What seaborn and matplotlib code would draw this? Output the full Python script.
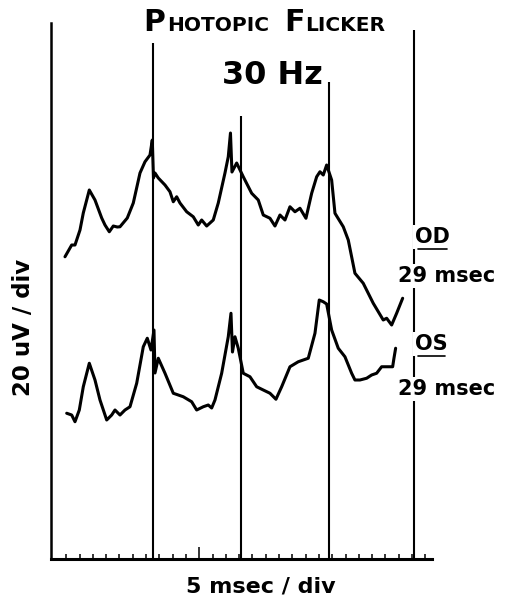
import matplotlib
matplotlib.use("Agg")
import matplotlib.pyplot as plt
import pandas as pd
import seaborn as sns

# photopic flicker ERG, 30 Hz. time in msec, amplitude in uV
od_time = [4.51, 7.03, 8.27, 10.15, 11.39, 13.65, 15.79, 18.31, 19.55, 21.17,
           22.67, 24.17, 25.19, 27.93, 30.19, 32.71, 34.59, 36.47, 37.33, 37.78,
           38.35, 39.59, 42.11, 43.98, 45.23, 46.5, 47.74, 50.26, 52.74, 54.62,
           55.9, 57.78, 60.26, 62.14, 64.66, 65.9, 66.73, 67.29, 69.06, 71.54,
           74.7, 77.18, 79.06, 81.58, 83.46, 85.34, 87.22, 89.1, 90.98, 92.86,
           95.11, 97.26, 99.14, 100.38, 101.62, 102.89, 104.77, 106.02, 109.14, 111.02,
           113.53, 116.65, 120.41, 124.17, 125.45, 127.33, 129.21, 131.47]
od_amp = [120.9, 125.6, 125.6, 131.6, 138.4, 147.6, 143.6, 136.4, 133.6, 130.9,
          133.2, 132.8, 132.9, 136.4, 142.4, 154.4, 158.9, 161.6, 167.6, 152.4,
          154.4, 152.4, 149.6, 146.9, 142.9, 144.9, 142.4, 138.9, 136.9, 133.6,
          135.6, 133.2, 135.6, 142.4, 154.4, 160.9, 170.4, 154.8, 158.4, 152.9,
          146.3, 143.6, 137.6, 136.3, 133.2, 137.6, 135.6, 140.9, 138.9, 140.3,
          136.3, 146.3, 152.9, 154.9, 153.6, 157.6, 151.6, 138.3, 132.9, 127.6,
          114.3, 110.3, 102.3, 95.6, 96.3, 93.6, 98.3, 104.3]

os_time = [5.15, 7.03, 8.27, 9.89, 11.39, 13.65, 15.79, 17.67, 20.19, 22.07,
           23.31, 25.19, 27.07, 28.95, 31.47, 33.95, 35.45, 36.84, 37.97, 38.35,
           39.59, 42.11, 45.23, 48.98, 52.14, 54.02, 56.5, 58.38, 59.66, 60.9,
           63.42, 65.9, 66.92, 67.48, 68.42, 69.66, 71.54, 74.06, 76.58, 79.06,
           81.58, 83.83, 85.98, 89.1, 92.22, 95.98, 98.5, 100.11, 101.62, 102.89,
           104.77, 107.26, 109.77, 112.29, 113.53, 115.41, 117.93, 119.81, 121.69, 123.57,
           127.71, 128.2, 128.83]
os_amp = [58.3, 57.6, 54.9, 59.6, 68.9, 78.3, 71.6, 63.6, 55.6, 57.6,
          59.6, 57.6, 59.6, 60.9, 70.3, 84.9, 88.3, 83.6, 91.6, 74.4,
          80.3, 74.3, 66.3, 64.9, 62.9, 59.6, 60.9, 61.6, 60.4, 63.6,
          74.3, 88.9, 98.3, 82.8, 88.9, 84.3, 74.3, 72.9, 68.9, 67.6,
          66.3, 63.9, 68.9, 76.9, 78.9, 80.3, 90.3, 103.6, 102.9, 102.0,
          91.6, 84.3, 80.9, 74.3, 71.6, 71.6, 72.3, 73.6, 74.3, 76.9,
          76.9, 80.3, 84.3]

# stimulus flash markers (30 Hz) and how high each one was drawn
flash_times = [37.6, 70.7, 103.8, 135.7]
flash_tops = [206.4, 177.2, 190.8, 211.6]

tick_times = list(range(5, 141, 5))
long_tick = 55

df = pd.concat([
    pd.DataFrame({"time": od_time, "amp": od_amp, "eye": "OD"}),
    pd.DataFrame({"time": os_time, "amp": os_amp, "eye": "OS"}),
])

sns.set_style("white")
plt.rcParams["font.family"] = ["DejaVu Sans"]
plt.rcParams["font.weight"] = "bold"
plt.rcParams["text.color"] = "black"
plt.rcParams["axes.edgecolor"] = "black"
plt.rcParams["xtick.color"] = "black"

fig = plt.figure(figsize=(5.09, 6.01), dpi=100)
ax = fig.add_axes([0.1002, 0.0699, 0.7485, 0.8918])

sns.lineplot(data=df, x="time", y="amp", units="eye", estimator=None, sort=False,
             color="black", linewidth=2.2, legend=False, ax=ax)

ax.vlines(flash_times, 0, flash_tops, color="black", linewidth=1.5, zorder=1)

ax.set_xlim(-0.75, 142.5)
ax.set_ylim(0, 214.4)
sns.despine(ax=ax)
ax.spines["left"].set_linewidth(1.8)
ax.spines["bottom"].set_linewidth(2.2)

ax.set_xticks([long_tick])
ax.set_xticks(tick_times, minor=True)
ax.tick_params(axis="x", which="major", direction="in", length=8.5, width=1.1,
               bottom=True, labelbottom=False, color="black")
ax.tick_params(axis="x", which="minor", direction="in", length=3.6, width=1.1,
               bottom=True, color="black")
ax.set_yticks([])
ax.set_xlabel("")
ax.set_ylabel("")

# title in small caps
fig.text(143 / 509, 1 - 31 / 601, "P", fontsize=21.5, va="baseline")
fig.text(167 / 509, 1 - 31 / 601, "HOTOPIC", fontsize=14.5, va="baseline")
fig.text(284 / 509, 1 - 31 / 601, "F", fontsize=21.5, va="baseline")
fig.text(305 / 509, 1 - 31 / 601, "LICKER", fontsize=14.5, va="baseline")
fig.text(272 / 509, 1 - 84 / 601, "30 Hz", fontsize=23, ha="center", va="baseline")

fig.text(261 / 509, 1 - 593 / 601, "5 msec / div", fontsize=16, ha="center", va="baseline")
fig.text(24 / 509, 1 - 327 / 601, "20 uV / div", fontsize=16.5, rotation=90,
         ha="center", va="center")

box = dict(facecolor="white", edgecolor="none", pad=1.5)
labels = []
labels.append(ax.text(136.1, 126.4, "OD", fontsize=15, va="baseline", bbox=box))
ax.text(129.7, 110.8, "29 msec", fontsize=15, va="baseline", bbox=box)
labels.append(ax.text(136.1, 83.6, "OS", fontsize=15, va="baseline", bbox=box))
ax.text(129.7, 65.6, "29 msec", fontsize=15, va="baseline", bbox=box)

# underline OD / OS
fig.canvas.draw()
inv = fig.transFigure.inverted()
for t in labels:
    bb = t.get_window_extent().transformed(inv)
    y = bb.y0 - 1.5 / 601
    fig.add_artist(plt.Line2D([bb.x0 + 0.006, bb.x1 - 0.006], [y, y],
                              color="black", linewidth=1.2))

fig.savefig("out.png", dpi=100)
